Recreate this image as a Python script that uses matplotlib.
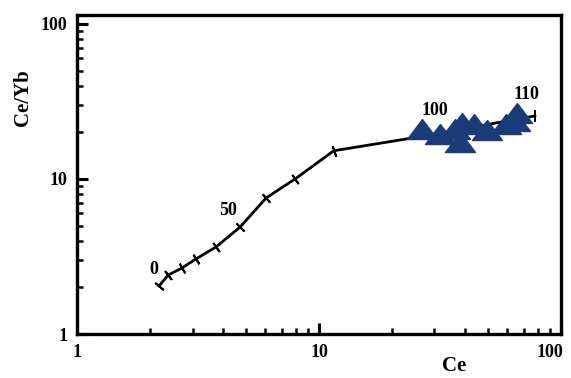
import matplotlib
matplotlib.use("Agg")
import matplotlib.pyplot as plt
from matplotlib.ticker import FuncFormatter, LogLocator
from matplotlib.transforms import ScaledTranslation
import numpy as np

# melting curve (Ce vs Ce/Yb), ticked every step
curve_ce = [2.18, 2.38, 2.72, 3.10, 3.75, 4.72, 6.04, 7.96, 11.5, 26.0, 78.0]
curve_ratio = [2.04, 2.40, 2.67, 3.05, 3.64, 4.90, 7.54, 10.0, 15.2, 18.7, 25.5]
curve_ticked = [True, True, True, True, True, True, True, True, True, False, True]

# sample points (triangles)
sample_ce = [26.6, 31.6, 38.3, 36.5, 39.0, 43.7, 49.5, 59.3, 64.5, 65.8]
sample_ratio = [21.0, 19.5, 17.3, 21.0, 23.0, 22.6, 20.7, 22.6, 23.7, 26.7]

# curve annotations
note_text = ["0", "50", "100", "110"]
note_ce = [2.08, 4.2, 30.0, 72.0]
note_ratio = [2.6, 6.3, 27.5, 35.0]

plt.rcParams["font.family"] = ["Liberation Serif", "DejaVu Serif"]
plt.rcParams["font.weight"] = "bold"

fig = plt.figure(figsize=(5.71, 3.78), dpi=100)
ax = fig.add_axes([0.135, 0.1164, 0.8475, 0.8436])
ax.set_xscale("log")
ax.set_yscale("log")
ax.set_xlim(1, 100)
ax.set_ylim(1, 114)

ax.plot(curve_ce, curve_ratio, color="black", lw=2, zorder=2)

# perpendicular crossbars along the curve
pts = ax.transData.transform(np.column_stack([curve_ce, curve_ratio]))
for i, on in enumerate(curve_ticked):
    if not on:
        continue
    a = pts[max(i - 1, 0)]
    b = pts[min(i + 1, len(pts) - 1)]
    ang = np.degrees(np.arctan2(b[1] - a[1], b[0] - a[0]))
    if i == len(pts) - 1:
        ang = 0
    ax.plot(curve_ce[i], curve_ratio[i], marker=(2, 2, ang), ms=8,
            mew=1.4, color="black", zorder=3)

tri = [(0, 1), (-1.5, -1), (1.5, -1), (0, 1)]
ax.plot(sample_ce, sample_ratio, ls="none", marker=tri, ms=21.6,
        color="#1b3a78", mec="#1b3a78", zorder=4)

for t, x, y in zip(note_text, note_ce, note_ratio):
    ax.text(x, y, t, fontsize=13, fontweight="bold", ha="center", va="center", zorder=5)

for s in ["left", "bottom", "right", "top"]:
    ax.spines[s].set_linewidth(2.4)

fmt = FuncFormatter(lambda v, p: "%g" % v)
ax.xaxis.set_major_formatter(fmt)
ax.yaxis.set_major_formatter(fmt)
ax.xaxis.set_minor_formatter(FuncFormatter(lambda v, p: ""))
ax.yaxis.set_minor_formatter(FuncFormatter(lambda v, p: ""))
ax.xaxis.set_major_locator(LogLocator(base=10, numticks=5))
ax.yaxis.set_major_locator(LogLocator(base=10, numticks=5))
ax.xaxis.set_minor_locator(LogLocator(base=10, subs=np.arange(2, 10), numticks=20))
ax.yaxis.set_minor_locator(LogLocator(base=10, subs=np.arange(2, 10), numticks=20))
ax.tick_params(which="major", direction="in", length=8, width=2.2, labelsize=13, pad=7)
ax.tick_params(which="minor", direction="in", length=4, width=1.8)
ax.tick_params(top=False, right=False, which="both")

ax.set_xlabel("Ce", fontsize=15, fontweight="bold")
ax.xaxis.set_label_coords(0.78, -0.068)
ax.set_ylabel("Ce/Yb", fontsize=15, fontweight="bold")
ax.yaxis.set_label_coords(-0.092, 0.74)

# nudge the right-most x tick label inside the figure, like the original
fig.canvas.draw()
for tick in ax.xaxis.get_major_ticks():
    if abs(tick.get_loc() - 100) < 1e-6:
        lab = tick.label1
        lab.set_transform(lab.get_transform() + ScaledTranslation(-8 / 72, 0, fig.dpi_scale_trans))

fig.savefig("out.png", dpi=100)
